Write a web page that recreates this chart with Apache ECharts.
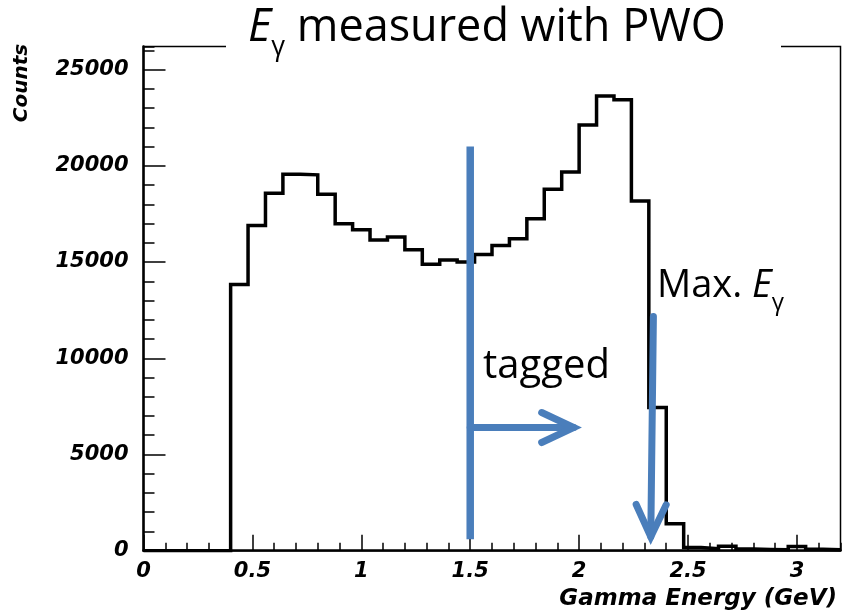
<!DOCTYPE html>
<html>
<head>
<meta charset="utf-8">
<title>Gamma energy spectrum (PWO)</title>
<script src="https://cdn.jsdelivr.net/npm/echarts@6/dist/echarts.min.js"></script>
<style>
  html, body { margin: 0; padding: 0; background: #fff; }
  #chart { width: 844px; height: 613px; }
</style>
</head>
<body>
<div id="chart"></div>
<script>
// Histogram bins: lower edge (GeV) and counts per 0.08 GeV bin
const binLowEdges = [
  0.40, 0.48, 0.56, 0.64, 0.72, 0.80, 0.88, 0.96, 1.04, 1.12,
  1.20, 1.28, 1.36, 1.44, 1.52, 1.60, 1.68, 1.76, 1.84, 1.92,
  2.00, 2.08, 2.16, 2.24, 2.32, 2.40, 2.48, 2.56, 2.64, 2.72,
  2.80, 2.88, 2.96, 3.04, 3.12
];
const binCounts = [
  13830, 16900, 18570, 19560, 19530, 18520, 16990, 16680, 16140, 16300,
  15640, 14890, 15110, 15000, 15390, 15860, 16210, 17250, 18780, 19680,
  22120, 23630, 23430, 18170, 7440, 1400, 170, 100, 230, 90,
  60, 50, 220, 70, 50
];
const histEnd = 3.2;

// Axis ranges and tick steps
const xRange = [0, 3.2];
const yRange = [0, 26200];
const xMajor = 0.5, xMinor = 0.1;
const yMajor = 5000, yMinor = 1000;

// Annotations: [x1, y1, x2, y2, arrowHead]
const taggedCut = [1.5, 21000, 1.5, 600, 0];
const taggedArrow = [1.5, 6400, 1.975, 6400, 1];
const maxEnergyArrow = [2.341, 12170, 2.329, 730, 1];

const BLUE = '#4a7ebb';
const axisFont = { fontFamily: 'DejaVu Sans', fontWeight: 'bold', fontStyle: 'italic', color: '#000' };

// Step outline of the histogram
const stepData = [[xRange[0], 0]];
binLowEdges.forEach((x, i) => stepData.push([x, binCounts[i]]));
stepData.push([histEnd, binCounts[binCounts.length - 1]]);

const chart = echarts.init(document.getElementById('chart'), null, { renderer: 'canvas' });

function renderArrow(params, api) {
  const a = api.coord([api.value(0), api.value(1)]);
  const b = api.coord([api.value(2), api.value(3)]);
  const head = api.value(4);
  const children = [{
    type: 'polyline',
    shape: { points: [a, b] },
    style: { stroke: BLUE, lineWidth: head ? 7 : 7.5, lineCap: head ? 'round' : 'butt', fill: null }
  }];
  if (head) {
    const dx = b[0] - a[0], dy = b[1] - a[1];
    const len = Math.sqrt(dx * dx + dy * dy);
    const ux = dx / len, uy = dy / len;
    const nx = -uy, ny = ux;
    const back = 32, spread = 15;
    children.push({
      type: 'polyline',
      shape: {
        points: [
          [b[0] - back * ux + spread * nx, b[1] - back * uy + spread * ny],
          b,
          [b[0] - back * ux - spread * nx, b[1] - back * uy - spread * ny]
        ]
      },
      style: { stroke: BLUE, lineWidth: 7, lineCap: 'round', lineJoin: 'miter', fill: null }
    });
  }
  return { type: 'group', children: children };
}

const plainNumber = v => String(Math.round(v * 100) / 100);

const option = {
  animation: false,
  backgroundColor: '#fff',
  grid: {
    left: 143.5, right: 3.5, top: 46.5, bottom: 62.3,
    show: true, borderColor: '#000', borderWidth: 1.5, backgroundColor: 'transparent'
  },
  xAxis: [
    {
      type: 'value', min: xRange[0], max: xRange[1], interval: xMajor,
      position: 'bottom',
      axisLine: { show: true, onZero: false, lineStyle: { color: '#000', width: 2.5 } },
      axisTick: { show: true, inside: true, length: 16, lineStyle: { color: '#000', width: 1.5 } },
      axisLabel: Object.assign({ fontSize: 21, margin: 10, showMaxLabel: false, formatter: plainNumber }, axisFont),
      splitLine: { show: false }
    },
    {
      type: 'value', min: xRange[0], max: xRange[1], interval: xMinor,
      position: 'bottom',
      axisLine: { show: false },
      axisTick: { show: true, inside: true, length: 8, lineStyle: { color: '#000', width: 1.5 } },
      axisLabel: { show: false },
      splitLine: { show: false }
    }
  ],
  yAxis: [
    {
      type: 'value', min: yRange[0], max: yRange[1], interval: yMajor,
      position: 'left',
      axisLine: { show: true, onZero: false, lineStyle: { color: '#000', width: 2.5 } },
      axisTick: { show: true, inside: true, length: 22, lineStyle: { color: '#000', width: 1.5 } },
      axisLabel: Object.assign({ fontSize: 21, margin: 15, showMaxLabel: false, formatter: plainNumber }, axisFont),
      splitLine: { show: false }
    },
    {
      type: 'value', min: yRange[0], max: yRange[1], interval: yMinor,
      position: 'left',
      axisLine: { show: false },
      axisTick: { show: true, inside: true, length: 11, lineStyle: { color: '#000', width: 1.5 } },
      axisLabel: { show: false },
      splitLine: { show: false }
    }
  ],
  series: [
    {
      name: 'Counts',
      type: 'line',
      step: 'end',
      data: stepData,
      symbol: 'none',
      lineStyle: { color: '#000', width: 3.5, join: 'miter' },
      z: 2
    },
    {
      name: 'Annotations',
      type: 'custom',
      renderItem: renderArrow,
      encode: { x: [0, 2], y: [1, 3] },
      data: [taggedCut, taggedArrow, maxEnergyArrow],
      clip: false,
      z: 3
    }
  ],
  graphic: [
    // title box interrupts the top frame line
    { type: 'rect', shape: { x: 226, y: 38, width: 555, height: 16 }, style: { fill: '#fff' }, z: 10 },
    {
      type: 'text', x: 248, y: -4.7, z: 11,
      style: {
        text: '{e|E}{s|γ}{t| measured with PWO}',
        verticalAlign: 'top', align: 'left',
        rich: {
          e: { fontFamily: 'Open Sans', fontSize: 45, fontStyle: 'italic', lineHeight: 66, verticalAlign: 'middle', fill: '#000' },
          s: { fontFamily: 'Open Sans', fontSize: 27, lineHeight: 26, verticalAlign: 'bottom', fill: '#000' },
          t: { fontFamily: 'Open Sans', fontSize: 45, lineHeight: 66, verticalAlign: 'middle', fill: '#000' }
        }
      }
    },
    {
      type: 'text', x: 657, y: 257.3, z: 11,
      style: {
        text: '{t|Max. }{e|E}{s|γ}',
        verticalAlign: 'top', align: 'left',
        rich: {
          t: { fontFamily: 'Open Sans', fontSize: 38, lineHeight: 58, verticalAlign: 'middle', fill: '#000' },
          e: { fontFamily: 'Open Sans', fontSize: 38, fontStyle: 'italic', lineHeight: 58, verticalAlign: 'middle', fill: '#000' },
          s: { fontFamily: 'Open Sans', fontSize: 24, lineHeight: 20, verticalAlign: 'bottom', fill: '#000' }
        }
      }
    },
    {
      type: 'text', x: 483, y: 367, z: 11,
      style: { text: 'tagged', fontFamily: 'Open Sans', fontSize: 40, fill: '#000', verticalAlign: 'middle', align: 'left' }
    },
    {
      type: 'text', x: 22, y: 83, rotation: Math.PI / 2, z: 11,
      style: { text: 'Counts', fontFamily: 'DejaVu Sans', fontWeight: 'bold', fontStyle: 'italic', fontSize: 20, fill: '#000', align: 'center', verticalAlign: 'middle' }
    },
    {
      type: 'text', x: 837, y: 599, z: 11,
      style: { text: 'Gamma Energy (GeV)', fontFamily: 'DejaVu Sans', fontWeight: 'bold', fontStyle: 'italic', fontSize: 23, fill: '#000', align: 'right', verticalAlign: 'middle' }
    }
  ]
};

chart.setOption(option);
</script>
</body>
</html>
